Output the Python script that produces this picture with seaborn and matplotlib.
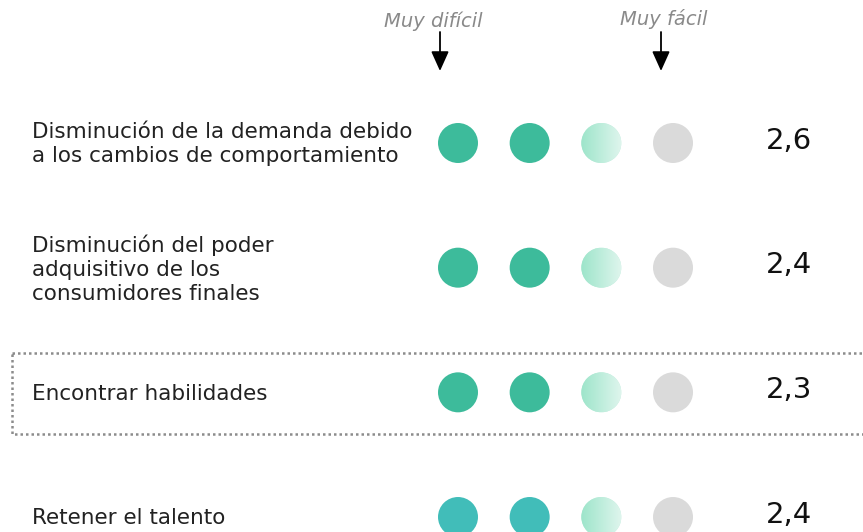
"""Dot rating chart: difficulty of business challenges."""

import matplotlib.pyplot as plt
import numpy as np
import pandas as pd
import seaborn as sns
from matplotlib.patches import Ellipse, Rectangle
from matplotlib.colors import LinearSegmentedColormap

# Data.
labels = [
    "Disminución de la demanda debido\na los cambios de comportamiento",
    "Disminución del poder\nadquisitivo de los\nconsumidores finales",
    "Encontrar habilidades",
    "Retener el talento",
]
scores = ["2,6", "2,4", "2,3", "2,4"]
dot_states = [
    ["full", "full", "partial", "empty"],
    ["full", "full", "partial", "empty"],
    ["full", "full", "partial", "empty"],
    ["full_alt", "full_alt", "partial", "empty"],
]
scale_labels = ["Muy difícil", "Muy fácil"]
highlight_row = 2

palette = {
    "full": "#3dbb9b",
    "full_alt": "#41bdb9",
    "partial": "#bdeddc",
    "empty": "#dadada",
}
gradient = LinearSegmentedColormap.from_list("fade", ["#9de5ca", "#def5ed"])

# Layout in pixels (top-left origin).
W, H = 863, 532
dot_x0, dot_dx = 458, 71.67
row_y0, row_dy = 143, 124.67
dot_diam = 40

rows = []
for r, states in enumerate(dot_states):
    for c, s in enumerate(states):
        rows.append({"row": r, "col": c, "state": s})
df = pd.DataFrame(rows)

sns.set_theme(style="white")
plt.rcParams["font.family"] = ["DejaVu Sans"]

fig = plt.figure(figsize=(W / 100, H / 100), dpi=100)
ax = fig.add_axes([0, 0, 1, 1])
ax.axis("off")


def px(x, y):
    """Pixel position -> data coordinates."""
    return (x - dot_x0) / dot_dx, (y - row_y0) / row_dy


marker_pt = dot_diam * 72 / 100
sns.scatterplot(
    data=df,
    x="col",
    y="row",
    hue="state",
    palette=palette,
    s=marker_pt ** 2,
    linewidth=0,
    legend=False,
    ax=ax,
)

# Gradient fill for the partial dots.
grad = np.linspace(0, 1, 256).reshape(1, -1)
rx, ry = dot_diam / dot_dx, dot_diam / row_dy
for _, d in df[df["state"] == "partial"].iterrows():
    circle = Ellipse((d["col"], d["row"]), rx, ry, transform=ax.transData,
                     facecolor="none", edgecolor="none")
    ax.add_patch(circle)
    im = ax.imshow(
        grad,
        cmap=gradient,
        extent=(d["col"] - rx / 2, d["col"] + rx / 2,
                d["row"] + ry / 2, d["row"] - ry / 2),
        aspect="auto",
        interpolation="bilinear",
        zorder=3,
    )
    im.set_clip_path(circle)

ax.set_xlim(-dot_x0 / dot_dx, (W - dot_x0) / dot_dx)
ax.set_ylim((H - row_y0) / row_dy, -row_y0 / row_dy)

# Row labels and scores.
label_x, _ = px(32, 0)
score_x, _ = px(789, 0)
for r, (lab, sc) in enumerate(zip(labels, scores)):
    ax.text(label_x, r + 0.01, lab, ha="left", va="center", fontsize=15.5,
            color="#222222", linespacing=1.24)
    ax.text(score_x, r - 0.02, sc, ha="center", va="center", fontsize=21,
            color="#111111")

# Highlight box around one row.
bx0, by0 = px(12, 353)
bx1, by1 = px(900, 434)
ax.add_patch(Rectangle((bx0, by0), bx1 - bx0, by1 - by0, fill=False,
                       edgecolor="#8c8c8c", linestyle=(0, (1, 1.2)),
                       linewidth=1.8, zorder=1))

# Scale headers with arrows.
for (tx, ty), (ax_x, a0, a1), txt in zip(
    [(433, 21), (664, 19)], [(440, 32, 71), (661, 32, 71)], scale_labels
):
    ax.text(*px(tx, ty), txt, ha="center", va="center", fontsize=14,
            style="italic", color="#8a8a8a")
    ax.annotate(
        "",
        xy=px(ax_x, a1),
        xytext=px(ax_x, a0),
        arrowprops=dict(arrowstyle="-|>,head_length=1.0,head_width=0.45",
                        color="black", lw=1.3, shrinkA=0, shrinkB=0),
    )

fig.savefig("out.png", dpi=100, facecolor="white")
plt.close(fig)
